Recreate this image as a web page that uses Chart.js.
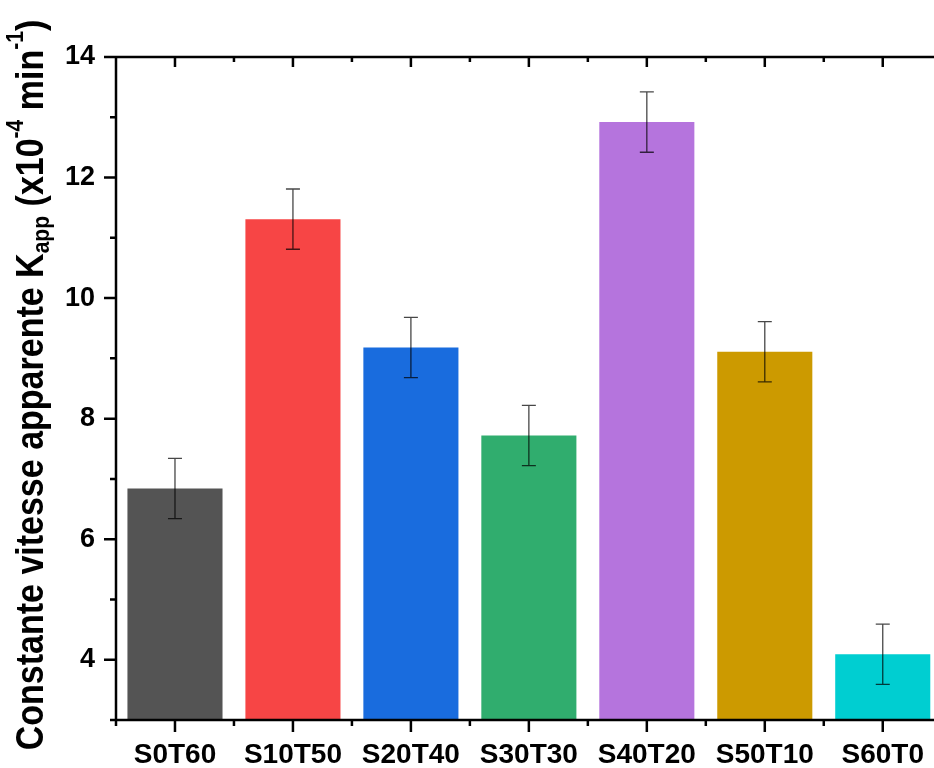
<!DOCTYPE html>
<html>
<head>
<meta charset="utf-8">
<script src="https://cdn.jsdelivr.net/npm/chart.js@4"></script>
<style>
html, body { margin: 0; padding: 0; overflow: hidden; background: #fff; }
#wrap { position: absolute; left: 0; top: 0; width: 942px; height: 768px; }
</style>
</head>
<body>
<div id="wrap"><canvas id="graficoK" width="942" height="768"></canvas></div>
<script>
// Dados
const categorias = ['S0T60', 'S10T50', 'S20T40', 'S30T30', 'S40T20', 'S50T10', 'S60T0'];
const valores = [6.84, 11.31, 9.18, 7.72, 12.92, 9.11, 4.09];
const erros = [0.5, 0.5, 0.5, 0.5, 0.5, 0.5, 0.5];
const cores = ['#545454', '#F74545', '#196CDE', '#30AD6E', '#B574DD', '#CC9A00', '#00CED1'];
const ticksY = [4, 6, 8, 10, 12, 14];
const ticksMenoresY = [3, 5, 7, 9, 11, 13];
const fonte = 'Arial, "Liberation Sans", sans-serif';

// Barras de erro + moldura com ticks
const moldura = {
    id: 'moldura',
    afterDatasetsDraw(chart) {
        const { ctx, scales: { x, y } } = chart;
        ctx.save();
        ctx.strokeStyle = 'rgba(0,0,0,0.72)';
        ctx.lineWidth = 1.3;
        valores.forEach((v, i) => {
            const px = x.getPixelForValue(i);
            const y1 = y.getPixelForValue(v + erros[i]);
            const y2 = y.getPixelForValue(v - erros[i]);
            ctx.beginPath();
            ctx.moveTo(px, y1); ctx.lineTo(px, y2);
            ctx.moveTo(px - 7, y1); ctx.lineTo(px + 7, y1);
            ctx.moveTo(px - 7, y2); ctx.lineTo(px + 7, y2);
            ctx.stroke();
        });
        ctx.restore();
    },
    afterDraw(chart) {
        const { ctx, chartArea: a, scales: { x, y } } = chart;
        ctx.save();
        ctx.strokeStyle = '#000';
        ctx.lineWidth = 2.5;
        ctx.beginPath();
        ctx.moveTo(a.left, a.top); ctx.lineTo(a.right, a.top);
        ctx.moveTo(a.left, a.top - 1.25); ctx.lineTo(a.left, a.bottom + 1.25);
        ctx.moveTo(a.left, a.bottom); ctx.lineTo(a.right, a.bottom);
        ticksY.forEach(v => {
            const py = y.getPixelForValue(v);
            ctx.moveTo(a.left - 12, py); ctx.lineTo(a.left, py);
        });
        ticksMenoresY.forEach(v => {
            const py = y.getPixelForValue(v);
            ctx.moveTo(a.left - 6, py); ctx.lineTo(a.left, py);
        });
        categorias.forEach((c, i) => {
            const px = x.getPixelForValue(i);
            ctx.moveTo(px, a.bottom); ctx.lineTo(px, a.bottom + 12);
            ctx.moveTo(px, a.top); ctx.lineTo(px, a.top + 10);
        });
        for (let i = 0; i <= categorias.length; i++) {
            const px = x.getPixelForValue(i - 0.5);
            ctx.moveTo(px, a.bottom); ctx.lineTo(px, a.bottom + 6);
            ctx.moveTo(px, a.top); ctx.lineTo(px, a.top + 5);
        }
        ctx.stroke();
        ctx.restore();
    }
};

// Título do eixo Y com subscrito e sobrescrito
const tituloY = {
    id: 'tituloY',
    afterDraw(chart) {
        const ctx = chart.ctx;
        const F = 34;
        const partes = [
            ['Constante vitesse apparente K', 1, 0],
            ['app', 0.62, 0.17],
            [' (x10', 1, 0],
            ['-4', 0.62, -0.52],
            [' min', 1, 0],
            ['-1', 0.62, -0.52],
            [')', 1, 0]
        ];
        ctx.save();
        ctx.translate(43, 385);
        ctx.rotate(-Math.PI / 2);
        ctx.scale(1, 1.12);
        ctx.fillStyle = '#000';
        ctx.textBaseline = 'alphabetic';
        let total = 0;
        partes.forEach(p => {
            ctx.font = `bold ${F * p[1]}px ${fonte}`;
            total += ctx.measureText(p[0]).width;
        });
        let xx = -total / 2;
        partes.forEach(p => {
            ctx.font = `bold ${F * p[1]}px ${fonte}`;
            ctx.fillText(p[0], xx, p[2] * F);
            xx += ctx.measureText(p[0]).width;
        });
        ctx.restore();
    }
};

const ctxK = document.getElementById('graficoK').getContext('2d');
new Chart(ctxK, {
    type: 'bar',
    data: {
        labels: categorias,
        datasets: [{
            data: valores,
            backgroundColor: cores,
            borderWidth: 0,
            barPercentage: 0.806,
            categoryPercentage: 1
        }]
    },
    options: {
        responsive: false,
        animation: false,
        layout: { padding: { top: 57, right: 0, left: 0, bottom: 0 } },
        plugins: { legend: { display: false }, tooltip: { enabled: false } },
        scales: {
            x: {
                grid: { display: false, drawTicks: false },
                border: { display: false },
                ticks: { color: '#000', font: { family: fonte, size: 28, weight: 'bold' }, padding: 18, maxRotation: 0, autoSkip: false },
                afterFit(s) { s.height = 48; }
            },
            y: {
                min: 3,
                max: 14,
                grid: { display: false, drawTicks: false },
                border: { display: false },
                afterBuildTicks(s) { s.ticks = ticksY.map(v => ({ value: v })); },
                ticks: { color: '#000', font: { family: fonte, size: 27, weight: 'bold' }, padding: 21 },
                afterFit(s) { s.width = 116; }
            }
        }
    },
    plugins: [moldura, tituloY]
});
</script>
</body>
</html>
